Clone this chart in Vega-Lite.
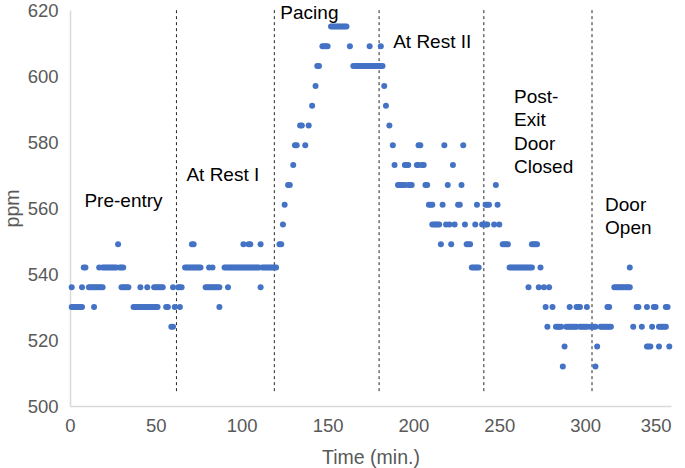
{
  "$schema": "https://vega.github.io/schema/vega-lite/v6.json",
  "width": 601,
  "height": 396,
  "autosize": {"type": "none"},
  "padding": {"left": 70, "top": 10, "right": 14, "bottom": 62},
  "config": {
    "view": {"stroke": null},
    "font": "Liberation Sans",
    "axis": {
      "grid": false,
      "ticks": false,
      "domainColor": "#D9D9D9",
      "domainWidth": 1.5,
      "labelColor": "#595959",
      "labelFontSize": 18.5,
      "labelFont": "Liberation Sans",
      "titleColor": "#595959",
      "titleFontSize": 19.5,
      "titleFontWeight": "normal",
      "titleFont": "Liberation Sans"
    }
  },
  "datasets": {
    "pts": [
      {"t":28,"p":549},
      {"t":8,"p":542},{"t":9,"p":542},{"t":17,"p":542},{"t":19,"p":542},{"t":20,"p":542},{"t":21,"p":542},{"t":22,"p":542},{"t":23,"p":542},{"t":24,"p":542},{"t":25,"p":542},{"t":26,"p":542},{"t":27,"p":542},{"t":29,"p":542},{"t":30,"p":542},{"t":31,"p":542},
      {"t":1,"p":536},{"t":7,"p":536},{"t":11,"p":536},{"t":12,"p":536},{"t":13,"p":536},{"t":14,"p":536},{"t":15,"p":536},{"t":16,"p":536},{"t":17,"p":536},{"t":18,"p":536},{"t":19,"p":536},{"t":30,"p":536},{"t":31,"p":536},{"t":32,"p":536},{"t":33,"p":536},{"t":34,"p":536},{"t":41,"p":536},{"t":45,"p":536},{"t":49,"p":536},{"t":50,"p":536},{"t":51,"p":536},{"t":52,"p":536},{"t":53,"p":536},{"t":54,"p":536},{"t":60,"p":536},{"t":63,"p":536},
      {"t":1,"p":530},{"t":2,"p":530},{"t":3,"p":530},{"t":4,"p":530},{"t":5,"p":530},{"t":6,"p":530},{"t":7,"p":530},{"t":14,"p":530},{"t":37,"p":530},{"t":38,"p":530},{"t":39,"p":530},{"t":40,"p":530},{"t":41,"p":530},{"t":42,"p":530},{"t":43,"p":530},{"t":44,"p":530},{"t":45,"p":530},{"t":46,"p":530},{"t":47,"p":530},{"t":48,"p":530},{"t":49,"p":530},{"t":50,"p":530},{"t":51,"p":530},{"t":56,"p":530},{"t":57,"p":530},{"t":61,"p":530},
      {"t":59,"p":524},{"t":60,"p":524},
      {"t":71,"p":549},{"t":72,"p":549},{"t":101,"p":549},{"t":104,"p":549},{"t":105,"p":549},{"t":111,"p":549},{"t":122,"p":549},{"t":123,"p":549},
      {"t":67,"p":542},{"t":68,"p":542},{"t":69,"p":542},{"t":70,"p":542},{"t":71,"p":542},{"t":72,"p":542},{"t":73,"p":542},{"t":74,"p":542},{"t":75,"p":542},{"t":76,"p":542},{"t":81,"p":542},{"t":83,"p":542},
      {"t":90,"p":542},{"t":91,"p":542},{"t":92,"p":542},{"t":93,"p":542},{"t":94,"p":542},{"t":95,"p":542},{"t":96,"p":542},{"t":97,"p":542},{"t":98,"p":542},{"t":99,"p":542},{"t":100,"p":542},{"t":101,"p":542},{"t":102,"p":542},{"t":103,"p":542},{"t":104,"p":542},{"t":105,"p":542},{"t":106,"p":542},{"t":107,"p":542},{"t":108,"p":542},{"t":109,"p":542},{"t":110,"p":542},{"t":112,"p":542},{"t":113,"p":542},{"t":114,"p":542},{"t":115,"p":542},{"t":116,"p":542},{"t":117,"p":542},{"t":118,"p":542},{"t":119,"p":542},{"t":120,"p":542},
      {"t":64,"p":536},{"t":65,"p":536},{"t":79,"p":536},{"t":80,"p":536},{"t":81,"p":536},{"t":82,"p":536},{"t":83,"p":536},{"t":84,"p":536},{"t":85,"p":536},{"t":86,"p":536},{"t":87,"p":536},{"t":92,"p":536},{"t":111,"p":536},
      {"t":64,"p":530},{"t":87,"p":530},
      {"t":124,"p":555},{"t":125,"p":561},{"t":127,"p":567},{"t":128,"p":567},{"t":130,"p":573},{"t":131,"p":579},{"t":132,"p":579},{"t":137,"p":579},{"t":134,"p":585},{"t":135,"p":585},{"t":139,"p":585},{"t":141,"p":591},{"t":143,"p":597},{"t":144,"p":603},{"t":145,"p":603},
      {"t":147,"p":609},{"t":148,"p":609},{"t":149,"p":609},{"t":150,"p":609},{"t":163,"p":609},{"t":174.5,"p":609},{"t":181,"p":609},
      {"t":152,"p":615},{"t":153,"p":615},{"t":154,"p":615},{"t":155,"p":615},{"t":156,"p":615},{"t":157,"p":615},{"t":158,"p":615},{"t":159,"p":615},{"t":160,"p":615},{"t":161,"p":615},
      {"t":165,"p":603},{"t":166,"p":603},{"t":167,"p":603},{"t":168,"p":603},{"t":169,"p":603},{"t":170,"p":603},{"t":171,"p":603},{"t":172,"p":603},{"t":173,"p":603},{"t":174,"p":603},{"t":175,"p":603},{"t":176,"p":603},{"t":177,"p":603},{"t":178,"p":603},{"t":179,"p":603},{"t":180,"p":603},{"t":181,"p":603},{"t":182,"p":603},
      {"t":183,"p":597},{"t":184,"p":591},{"t":186,"p":585},
      {"t":188,"p":579},{"t":203,"p":579},{"t":204,"p":579},{"t":218,"p":579},{"t":229,"p":579},
      {"t":189,"p":573},{"t":195,"p":573},{"t":196,"p":573},{"t":197,"p":573},{"t":202,"p":573},{"t":203,"p":573},{"t":205,"p":573},{"t":206,"p":573},{"t":223,"p":573},
      {"t":191,"p":567},{"t":192,"p":567},{"t":193,"p":567},{"t":194,"p":567},{"t":195,"p":567},{"t":197,"p":567},{"t":198,"p":567},{"t":199,"p":567},{"t":207,"p":567},{"t":208,"p":567},{"t":220,"p":567},{"t":228,"p":567},{"t":248,"p":567},
      {"t":209,"p":561},{"t":210,"p":561},{"t":211,"p":561},{"t":217,"p":561},{"t":226,"p":561},{"t":227,"p":561},{"t":237,"p":561},{"t":242,"p":561},{"t":243,"p":561},{"t":244,"p":561},{"t":249,"p":561},
      {"t":211,"p":555},{"t":212,"p":555},{"t":213,"p":555},{"t":214,"p":555},{"t":215,"p":555},{"t":219,"p":555},{"t":221,"p":555},{"t":224,"p":555},{"t":230,"p":555},{"t":236,"p":555},{"t":240,"p":555},{"t":241,"p":555},{"t":242,"p":555},{"t":243,"p":555},{"t":247,"p":555},{"t":250,"p":555},
      {"t":216,"p":549},{"t":222,"p":549},{"t":231,"p":549},{"t":232,"p":549},{"t":233,"p":549},{"t":252,"p":549},{"t":253,"p":549},{"t":254,"p":549},{"t":255,"p":549},{"t":269,"p":549},{"t":270,"p":549},{"t":271,"p":549},{"t":272,"p":549},
      {"t":234,"p":542},{"t":235,"p":542},{"t":236,"p":542},{"t":237,"p":542},{"t":238,"p":542},{"t":256,"p":542},{"t":257,"p":542},{"t":258,"p":542},{"t":259,"p":542},{"t":260,"p":542},{"t":261,"p":542},{"t":262,"p":542},{"t":263,"p":542},{"t":264,"p":542},{"t":265,"p":542},{"t":266,"p":542},{"t":267,"p":542},{"t":268,"p":542},{"t":269,"p":542},{"t":274,"p":542},
      {"t":267,"p":536},{"t":273,"p":536},{"t":276,"p":536},{"t":279,"p":536},
      {"t":277,"p":530},{"t":281,"p":530},{"t":291,"p":530},{"t":295,"p":530},{"t":296,"p":530},{"t":297,"p":530},{"t":301,"p":530},
      {"t":278,"p":524},{"t":283,"p":524},{"t":284,"p":524},{"t":285,"p":524},{"t":286,"p":524},{"t":289,"p":524},{"t":290,"p":524},{"t":291,"p":524},{"t":292,"p":524},{"t":293,"p":524},{"t":294,"p":524},{"t":295,"p":524},{"t":297,"p":524},{"t":298,"p":524},{"t":299,"p":524},{"t":300,"p":524},{"t":301,"p":524},{"t":303,"p":524},{"t":304,"p":524},{"t":305,"p":524},{"t":306,"p":524},
      {"t":288,"p":518},{"t":287,"p":512},{"t":306,"p":512},{"t":307,"p":518},
      {"t":326,"p":542},
      {"t":317,"p":536},{"t":318,"p":536},{"t":319,"p":536},{"t":320,"p":536},{"t":321,"p":536},{"t":322,"p":536},{"t":323,"p":536},{"t":324,"p":536},{"t":325,"p":536},{"t":326,"p":536},
      {"t":313,"p":530},{"t":314,"p":530},{"t":330,"p":530},{"t":331,"p":530},{"t":336,"p":530},{"t":340,"p":530},{"t":341,"p":530},{"t":347,"p":530},{"t":348,"p":530},
      {"t":309,"p":524},{"t":310,"p":524},{"t":311,"p":524},{"t":312,"p":524},{"t":313,"p":524},{"t":314,"p":524},{"t":315,"p":524},{"t":328,"p":524},{"t":333,"p":524},{"t":339,"p":524},{"t":343,"p":524},{"t":344,"p":524},{"t":345,"p":524},{"t":346,"p":524},{"t":347,"p":524},
      {"t":336,"p":518},{"t":337,"p":518},{"t":338,"p":518},{"t":343,"p":518},{"t":349,"p":518}
    ],
    "rules": [{"x":62},{"x":119},{"x":180},{"x":241},{"x":304}],
    "labels": [
      {"t":8.4,"p":562,"label":"Pre-entry"},
      {"t":67.8,"p":570,"label":"At Rest I"},
      {"t":122.5,"p":619,"label":"Pacing"},
      {"t":188.2,"p":610.3,"label":"At Rest II"},
      {"t":258.6,"p":593.7,"label":"Post-\nExit\nDoor\nClosed"},
      {"t":311.6,"p":561,"label":"Door\nOpen"}
    ]
  },
  "layer": [
    {
      "data": {"name": "rules"},
      "mark": {"type": "rule", "color": "#262626", "strokeDash": [3, 3], "strokeWidth": 1},
      "encoding": {
        "x": {"field": "x", "type": "quantitative", "scale": {"domain": [0, 350]}},
        "y": {"datum": 504.5, "type": "quantitative"},
        "y2": {"datum": 620}
      }
    },
    {
      "data": {"name": "pts"},
      "mark": {"type": "circle", "size": 36, "color": "#4472C4", "opacity": 1},
      "encoding": {
        "x": {"field": "t", "type": "quantitative", "scale": {"domain": [0, 350]},
              "axis": {"title": "Time (min.)", "values": [0,50,100,150,200,250,300,350], "labelFlush": false,
                       "labelAlign": {"expr": "datum.value == 350 ? 'right' : 'center'"},
                       "labelPadding": 10, "titlePadding": 14}},
        "y": {"field": "p", "type": "quantitative", "scale": {"domain": [500, 620], "zero": false},
              "axis": {"title": "ppm", "values": [500,520,540,560,580,600,620], "labelPadding": 12, "titlePadding": 5}}
      }
    },
    {
      "data": {"name": "labels"},
      "mark": {"type": "text", "align": "left", "baseline": "middle", "fontSize": 19, "color": "#000000", "lineBreak": "\n", "lineHeight": 23.5, "font": "Liberation Sans"},
      "encoding": {
        "x": {"field": "t", "type": "quantitative"},
        "y": {"field": "p", "type": "quantitative"},
        "text": {"field": "label"}
      }
    }
  ]
}
